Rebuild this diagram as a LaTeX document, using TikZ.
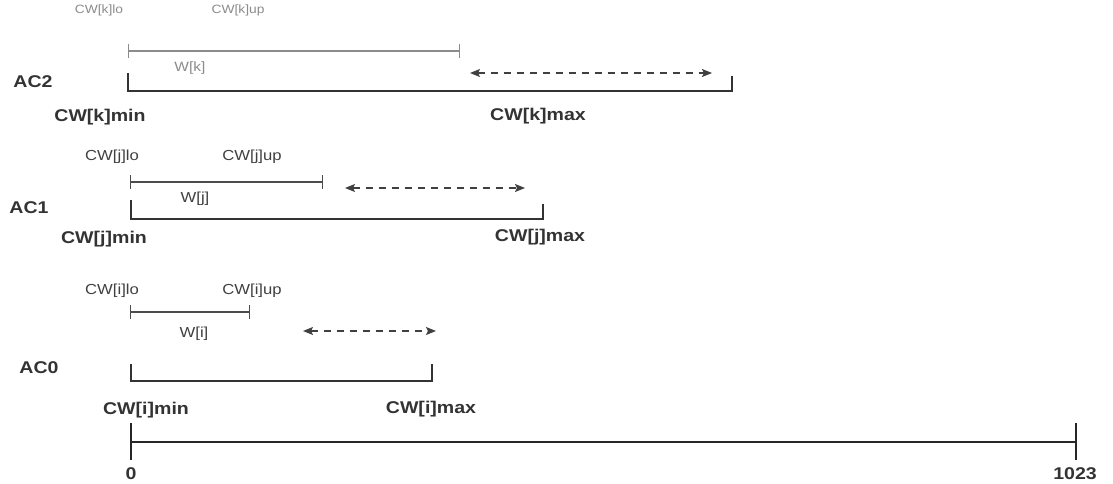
\documentclass[tikz,border=0pt]{standalone}
\usepackage{fontspec}
\setmainfont{Liberation Sans}
\newfontfamily\stretchfont[FakeStretch=1.15]{Liberation Sans}
\usetikzlibrary{arrows.meta}
\begin{document}
\begin{tikzpicture}[x=1pt,y=-1pt,
  biglbl/.style={font=\stretchfont\fontsize{17}{19}\selectfont\bfseries, text=black!80, inner sep=0pt},
  smlbl/.style={font=\stretchfont\fontsize{14.5}{16}\selectfont, text=black!75, inner sep=0pt},
  graylbl/.style={font=\stretchfont\fontsize{12}{14}\selectfont, text=black!45, inner sep=0pt},
  bracketline/.style={line width=1.8pt, draw=black!80},
  rangeline/.style={line width=1.3pt, draw=black!70, {Bar[width=14pt,line width=1.3pt]}-{Bar[width=14pt,line width=1.3pt]}},
  grayrange/.style={rangeline, draw=black!45},
  dblarrow/.style={line width=1.3pt, draw=black!75, dash pattern=on 7pt off 6pt,
    {Stealth[length=10pt,width=8pt,inset=2pt]}-{Stealth[length=10pt,width=8pt,inset=2pt]}},
  axisline/.style={line width=1.8pt, draw=black!85}
]
\useasboundingbox[fill=white] (0,0) rectangle (1113,484);

% ---------- AC2 ----------
\coordinate (klo) at (128,51);
\coordinate (kup) at (460,51);
\coordinate (kb1) at (128,73);
\coordinate (kb2) at (128,91);
\coordinate (kb3) at (732,91);
\coordinate (kb4) at (732,76);
\coordinate (ka1) at (470,73);
\coordinate (ka2) at (712,73);
\node[graylbl] (kloT) at (99,10) {CW[k]lo};
\node[graylbl] (kupT) at (238,10) {CW[k]up};
\node[graylbl, font=\stretchfont\fontsize{13.5}{15}\selectfont] (kW) at (190,68) {W[k]};
\node[biglbl] (ac2) at (33,82) {AC2};
\node[biglbl] (kmin) at (100,117) {CW[k]min};
\node[biglbl] (kmax) at (538,116) {CW[k]max};
\draw[grayrange] (klo) -- (kup);
\draw[bracketline] (kb1) -- (kb2) -- (kb3) -- (kb4);
\draw[dblarrow] (ka1) -- (ka2);

% ---------- AC1 ----------
\coordinate (jlo) at (130,182);
\coordinate (jup) at (323,182);
\coordinate (jb1) at (131,200);
\coordinate (jb2) at (131,219);
\coordinate (jb3) at (543,219);
\coordinate (jb4) at (543,204);
\coordinate (ja1) at (345,188);
\coordinate (ja2) at (525,188);
\node[smlbl] (jloT) at (112,157) {CW[j]lo};
\node[smlbl] (jupT) at (252,157) {CW[j]up};
\node[smlbl] (jW) at (195,199) {W[j]};
\node[biglbl] (ac1) at (29,208) {AC1};
\node[biglbl] (jmin) at (104,239) {CW[j]min};
\node[biglbl] (jmax) at (540,237) {CW[j]max};
\draw[rangeline] (jlo) -- (jup);
\draw[bracketline] (jb1) -- (jb2) -- (jb3) -- (jb4);
\draw[dblarrow] (ja1) -- (ja2);

% ---------- AC0 ----------
\coordinate (ilo) at (130,312);
\coordinate (iup) at (250,312);
\coordinate (ib1) at (131,364);
\coordinate (ib2) at (131,381);
\coordinate (ib3) at (432,381);
\coordinate (ib4) at (432,364);
\coordinate (ia1) at (303,331);
\coordinate (ia2) at (436,331);
\node[smlbl] (iloT) at (112,291) {CW[i]lo};
\node[smlbl] (iupT) at (252,291) {CW[i]up};
\node[smlbl] (iW) at (194,334) {W[i]};
\node[biglbl] (ac0) at (39,368) {AC0};
\node[biglbl] (imin) at (146,410) {CW[i]min};
\node[biglbl] (imax) at (431,409) {CW[i]max};
\draw[rangeline] (ilo) -- (iup);
\draw[bracketline] (ib1) -- (ib2) -- (ib3) -- (ib4);
\draw[dblarrow] (ia1) -- (ia2);

% ---------- axis ----------
\coordinate (a0) at (131,442);
\coordinate (a1) at (1076,442);
\coordinate (t0a) at (131,423);
\coordinate (t0b) at (131,460);
\coordinate (t1a) at (1076,423);
\coordinate (t1b) at (1076,460);
\draw[axisline] (a0) -- (a1);
\draw[axisline] (t0a) -- (t0b);
\draw[axisline] (t1a) -- (t1b);
\node[biglbl] (zero) at (131,474) {0};
\node[biglbl] (max) at (1075,474) {1023};
\end{tikzpicture}
\end{document}
